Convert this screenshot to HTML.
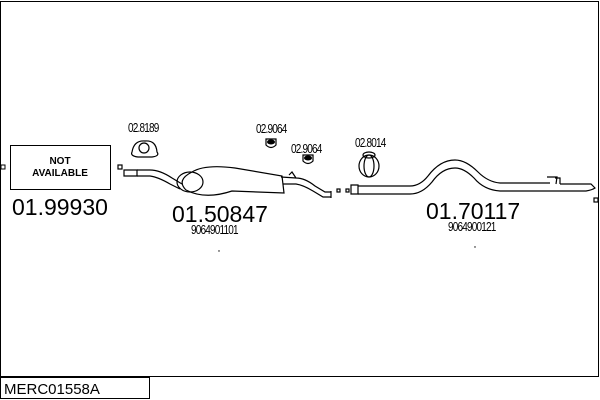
<!DOCTYPE html>
<html><head><style>
html,body{margin:0;padding:0;background:#fff;}
svg{display:block;font-family:"Liberation Sans",sans-serif;}
</style></head><body>
<svg width="600" height="400" viewBox="0 0 600 400">
<rect x="0.5" y="1.5" width="598" height="375" fill="none" stroke="#000"/>
<rect x="0.5" y="377.5" width="149" height="21" fill="#fff" stroke="#000"/>
<text x="4" y="394" font-size="15">MERC01558A</text>

<rect x="10.5" y="145.5" width="100" height="44" fill="#fff" stroke="#000"/>
<text x="60" y="164" font-size="10" font-weight="bold" text-anchor="middle">NOT</text>
<text x="60" y="176" font-size="10" font-weight="bold" text-anchor="middle">AVAILABLE</text>
<rect x="1" y="165" width="4" height="4" fill="none" stroke="#000"/>
<text x="12" y="215" font-size="23">01.99930</text>

<g fill="none" stroke="#000" stroke-width="1.2">
<rect x="118" y="165" width="4" height="4"/>
<path d="M124 170 L137 170 L137 176 L124 176 Z"/>
<path d="M137 170 L150 170 Q160 170 172 178 L182 184"/>
<path d="M137 176 L150 176 Q158 177 170 184 L180 189"/>
<path d="M192 172 Q205 164 235 168 L282 176 L284 193 L232 191 Q205 200 186 190 Q176 180 192 172Z"/>
<ellipse cx="190" cy="182" rx="13" ry="10"/>
<path d="M281 177 L296 178 Q305 178 315 186 L325 192 L331 192"/>
<path d="M283 184 L296 184 Q303 185 313 191 L323 197 L331 197"/>
<path d="M331 191 L331 198"/>
<path d="M289 175 L292 172 L296 178"/>
<rect x="337" y="189" width="3" height="3"/>
<rect x="346" y="189" width="3" height="3"/>
<path d="M132 152 Q134 140 145 141 Q156 140 157 152 Q160 156 152 157 L138 157 Q130 156 132 152Z"/>
<circle cx="144" cy="148" r="5"/>
<path d="M266 139 L276 139 L276 145 Q271 150 266 145Z"/>
<path d="M303 155 L313 155 L313 161 Q308 166 303 161Z"/>
<path d="M351 185 L358 185 L358 194 L351 194Z"/>
<path d="M358 186 L410 186 Q420 186 428 176 Q440 160 455 160 Q466 160 478 172 Q488 182 500 183 L550 183"/>
<path d="M358 194 L410 194 Q422 194 432 182 Q442 168 455 168 Q464 168 474 178 Q484 190 500 191 L586 191 Q592 190 595 188 L591 184 L560 184"/>
<path d="M547 177 L557 177 L556 184 M555 178 L560 178 L560 184"/>
<rect x="594" y="198" width="4" height="4"/>
<ellipse cx="369" cy="166" rx="10" ry="11"/>
<ellipse cx="369" cy="166" rx="5" ry="11"/>
<ellipse cx="369" cy="155" rx="6" ry="3"/>
</g>
<g fill="#000">
<ellipse cx="271" cy="142" rx="4" ry="2.5"/>
<ellipse cx="308" cy="158" rx="4" ry="2.5"/>
<circle cx="219" cy="251" r="0.7"/>
<circle cx="475" cy="247" r="0.7"/>
</g>
<g font-size="10" letter-spacing="-0.8">
<text transform="translate(128 132) scale(1 1.3)">02.8189</text>
<text transform="translate(256 133) scale(1 1.3)">02.9064</text>
<text transform="translate(291 153) scale(1 1.3)">02.9064</text>
<text transform="translate(355 147) scale(1 1.3)">02.8014</text>
<text transform="translate(191 234) scale(1 1.25)">9064901101</text>
<text transform="translate(448 231) scale(1 1.25)">9064900121</text>
</g>
<text x="172" y="222" font-size="23">01.50847</text>
<text x="426" y="219" font-size="23">01.70117</text>
</svg>
</body></html>
